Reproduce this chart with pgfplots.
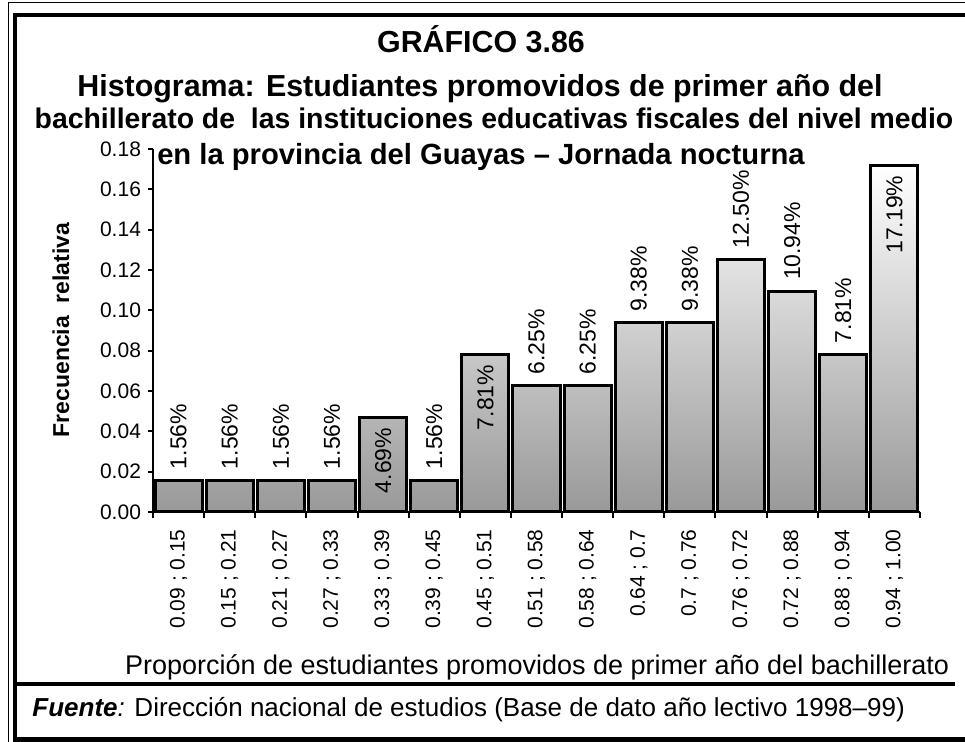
\documentclass[border=0pt]{standalone}
\usepackage{fontspec}
\setmainfont{Liberation Sans}
\usepackage{pgfplots}
\usepackage{pgfplotstable}
\pgfplotsset{compat=1.18}

% x = bar centre, y = relative frequency, pos = 1 when the label sits inside the bar
\pgfplotstableread{
x     y      pos
0.5   0.0156 0
1.5   0.0156 0
2.5   0.0156 0
3.5   0.0156 0
4.5   0.0469 1
5.5   0.0156 0
6.5   0.0781 1
7.5   0.0625 0
8.5   0.0625 0
9.5   0.0938 0
10.5  0.0938 0
11.5  0.1250 0
12.5  0.1094 0
13.5  0.0781 0
14.5  0.1719 1
}\histdata

\begin{document}
\begin{tikzpicture}
\useasboundingbox (0,0) rectangle (482.5pt,-371pt);
\begin{scope}[x=0.5pt,y=-0.5pt]
  % frame
  \draw[line width=0.5pt] (8,742) -- (8,3) -- (965,3);
  \draw[line width=2pt] (15,742) -- (15,15) -- (965,15);
  \draw[line width=2.5pt] (15,739.5) -- (965,739.5);
  % titles
  \begin{scope}[every node/.style={anchor=base, inner sep=0pt}]
    \node[font=\fontsize{15.2}{17}\selectfont\bfseries] at (481,53) {GRÁFICO 3.86};
    \node[font=\fontsize{15.2}{17}\selectfont\bfseries] at (480,97) {Histograma: Estudiantes promovidos de primer año del};
    \node[font=\fontsize{14.2}{16}\selectfont\bfseries] at (494,129) {bachillerato de\ \ las instituciones educativas fiscales del nivel medio};
    \node[font=\fontsize{14.6}{16}\selectfont\bfseries] at (481,165) {en la provincia del Guayas – Jornada nocturna};
  \end{scope}
  \node[rotate=90, inner sep=0pt, font=\fontsize{11.5}{13}\selectfont\bfseries] at (61,330) {Frecuencia\ \ relativa};
  \node[anchor=base, inner sep=0pt, font=\fontsize{13.5}{15}\selectfont] at (537,675)
    {Proporción de estudiantes promovidos de primer año del bachillerato};
  \draw[line width=2pt] (17,684) -- (955,684);
  \node[anchor=base west, inner sep=0pt, font=\fontsize{13}{15}\selectfont] at (32,717)
    {\textbf{\textit{Fuente}}\textit{:} Dirección nacional de estudios (Base de dato año lectivo 1998–99)};
\end{scope}

\begin{axis}[
    at={(76.5pt,-256pt)}, anchor=south west,
    scale only axis,
    width=383.5pt, height=181.5pt,
    xmin=0, xmax=15, ymin=0, ymax=0.18,
    enlargelimits=false,
    clip=false,
    axis lines*=left,
    axis line style={line width=1pt},
    tick align=outside,
    tick style={black, line width=1pt},
    major tick length=2.5pt,
    minor tick length=3pt,
    /pgf/number format/assume math mode=true,
    tick label style={font=\fontsize{10.5}{12}\selectfont},
    ytick={0,0.02,0.04,0.06,0.08,0.10,0.12,0.14,0.16,0.18},
    yticklabel style={/pgf/number format/.cd, fixed, fixed zerofill, precision=2},
    xtick={0.5,1.5,...,14.5},
    minor xtick={0,1,...,15},
    every major x tick/.append style={draw=none},
    xticklabels={0.09 ; 0.15, 0.15 ; 0.21, 0.21 ; 0.27, 0.27 ; 0.33, 0.33 ; 0.39,
                 0.39 ; 0.45, 0.45 ; 0.51, 0.51 ; 0.58, 0.58 ; 0.64, 0.64 ; 0.7,
                 0.7 ; 0.76, 0.76 ; 0.72, 0.72 ; 0.88, 0.88 ; 0.94, 0.94 ; 1.00},
    xticklabel style={rotate=90, anchor=east, inner sep=0pt},
    xticklabel shift=6pt,
]
\addplot[ybar, bar width=0.92, bar shift=0pt, draw=black, line width=1.5pt,
         top color=white, bottom color=black!40]
  table[x=x, y=y] {\histdata};

% labels above the bars
\addplot[draw=none, mark=none, forget plot,
         restrict expr to domain={\thisrow{pos}}{0:0},
         point meta={100*\thisrow{y}},
         nodes near coords={\pgfmathprintnumber[fixed, fixed zerofill, precision=2]{\pgfplotspointmeta}\%},
         every node near coord/.append style={rotate=90, anchor=west, inner xsep=5.5pt, inner ysep=0pt,
                                              font=\fontsize{11.5}{13}\selectfont}]
  table[x=x, y=y] {\histdata};

% labels inside the bars
\addplot[draw=none, mark=none, forget plot,
         restrict expr to domain={\thisrow{pos}}{1:1},
         point meta={100*\thisrow{y}},
         nodes near coords={\pgfmathprintnumber[fixed, fixed zerofill, precision=2]{\pgfplotspointmeta}\%},
         every node near coord/.append style={rotate=90, anchor=east, inner xsep=5pt, inner ysep=0pt,
                                              font=\fontsize{11.5}{13}\selectfont}]
  table[x=x, y=y] {\histdata};
\end{axis}
\end{tikzpicture}
\end{document}
